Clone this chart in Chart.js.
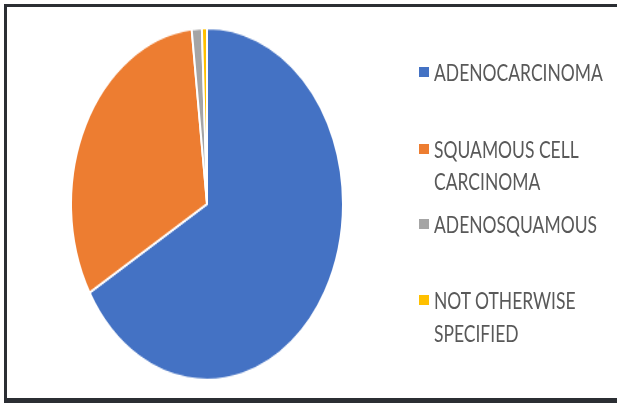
<!DOCTYPE html>
<html>
<head>
<meta charset="utf-8">
<script src="https://cdn.jsdelivr.net/npm/chart.js@4.4.1/dist/chart.umd.min.js"></script>
<style>
  html, body { margin: 0; padding: 0; background: #fff; }
  body { width: 617px; height: 403px; position: relative; overflow: hidden; }
  #frame {
    position: absolute; left: 4px; top: 4px; width: 620px; height: 391px;
    border-left: 3px solid #2b2e33; border-top: 3px solid #2b2e33; border-bottom: 5px solid #2b2e33;
  }
  #pieBox {
    position: absolute; left: 70px; top: 67px; width: 274px; height: 274px;
    transform: scaleY(1.294); transform-origin: 50% 50%;
  }
  #legend { position: absolute; left: 0; top: 0; width: 617px; height: 403px; }
  .item { position: absolute; left: 419px; }
  .box { position: absolute; left: 0; width: 10px; height: 10px; }
  .txt {
    position: absolute; left: 15px; white-space: nowrap;
    font-family: Lato, "Open Sans", sans-serif; font-size: 23px; line-height: 33px;
    color: #595959; transform: scaleX(0.76); transform-origin: 0 0;
  }
</style>
</head>
<body>
<div id="frame"></div>
<div id="pieBox"><canvas id="pie"></canvas></div>
<div id="legend"></div>
<script>
// share of cases by histology (%)
const LABELS = ["ADENOCARCINOMA", "SQUAMOUS CELL CARCINOMA", "ADENOSQUAMOUS", "NOT OTHERWISE SPECIFIED"];
const LEGEND_LINES = [["ADENOCARCINOMA"], ["SQUAMOUS CELL", "CARCINOMA"], ["ADENOSQUAMOUS"], ["NOT OTHERWISE", "SPECIFIED"]];
const SHARES = [66.6, 31.6, 1.2, 0.6];
const COLORS = ["#4472C4", "#ED7D31", "#A5A5A5", "#FFC000"];

// legend layout (top of each item's first line, line spacing)
const ITEM_TOP = [56, 133, 208, 284];
const LINE_GAP = [0, 32, 0, 33];

const ctx = document.getElementById("pie").getContext("2d");
const pieChart = new Chart(ctx, {
  type: "pie",
  data: {
    labels: LABELS,
    datasets: [{
      data: SHARES,
      backgroundColor: COLORS,
      borderColor: "#ffffff",
      borderWidth: 2,
    }],
  },
  options: {
    responsive: true,
    maintainAspectRatio: false,
    animation: false,
    layout: { padding: 0 },
    plugins: {
      legend: { display: false },
      tooltip: { enabled: false },
    },
  },
});

// html legend built from the chart's own labels
const legendEl = document.getElementById("legend");
const items = pieChart.options.plugins.legend.labels.generateLabels(pieChart);
items.forEach((it, i) => {
  const div = document.createElement("div");
  div.className = "item";
  div.style.top = ITEM_TOP[i] + "px";
  const box = document.createElement("div");
  box.className = "box";
  box.style.background = it.fillStyle;
  box.style.top = "11px";
  div.appendChild(box);
  LEGEND_LINES[i].forEach((line, j) => {
    const t = document.createElement("div");
    t.className = "txt";
    t.style.top = (j * LINE_GAP[i]) + "px";
    t.textContent = line;
    div.appendChild(t);
  });
  legendEl.appendChild(div);
});
</script>
</body>
</html>
